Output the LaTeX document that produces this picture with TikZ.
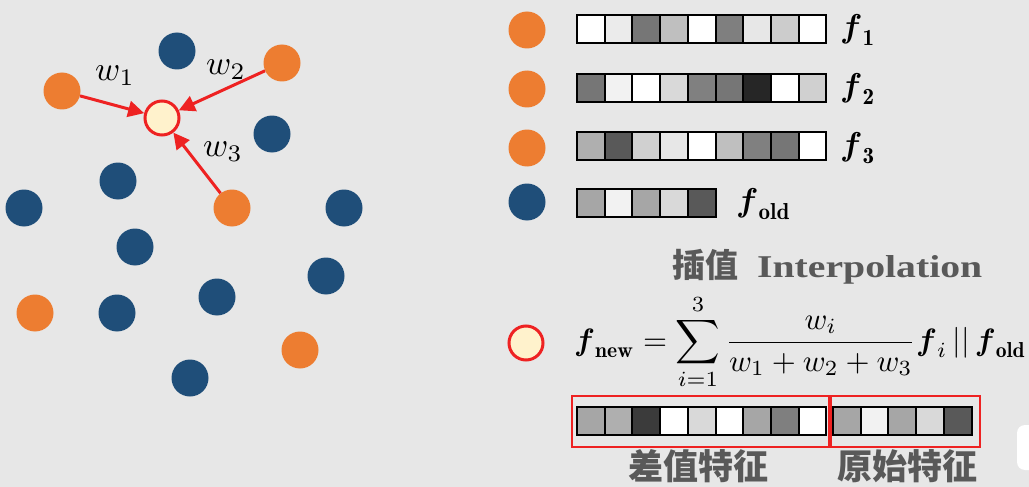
\documentclass[tikz,border=0pt]{standalone}
\usepackage{amsmath}
\usepackage{graphicx}
\usepackage{fontspec}
\newfontfamily\cjk{Noto Sans CJK SC}
\newfontfamily\serifb{Liberation Serif}
\usetikzlibrary{arrows.meta}
\definecolor{bg}{HTML}{E7E7E7}
\definecolor{org}{HTML}{ED7D31}
\definecolor{blu}{HTML}{1F4E79}
\definecolor{crm}{HTML}{FFF2CC}
\definecolor{rd}{HTML}{EE2222}
\definecolor{txt}{HTML}{595959}
\newcommand\featbar[3]{%
  \foreach \g [count=\i from 0] in {#3} {%
    \definecolor{cellc}{RGB}{\g,\g,\g}%
    \filldraw[fill=cellc, draw=black, line width=2pt] ({#1+\i*27.7},#2) rectangle ++(27.7,28);
  }%
}
\tikzset{
  dotO/.style={circle, fill=org, minimum size=37pt, inner sep=0pt},
  dotB/.style={circle, fill=blu, minimum size=37pt, inner sep=0pt},
  newpt/.style={circle, fill=crm, draw=rd, line width=3pt, minimum size=34pt, inner sep=0pt},
  warrow/.style={draw=rd, line width=3pt, -{Triangle[length=16pt,width=16pt]}},
  wlab/.style={inner sep=0pt},
  flab/.style={inner sep=0pt, anchor=west},
  redbox/.style={draw=rd, line width=2.5pt},
}
\begin{document}
\begin{tikzpicture}[x=1pt,y=-1pt]
\useasboundingbox (0,0) rectangle (1029,487);
\clip (0,0) rectangle (1029,487);
\fill[bg] (0,0) rectangle (1029,487);

% left graph
\node[dotB] (b1) at (177,51) {};
\node[dotO] (o1) at (62,91) {};
\node[dotO] (o2) at (282,63) {};
\node[dotB] (b2) at (272,134) {};
\node[dotB] (b3) at (118,181) {};
\node[dotO] (o3) at (232,208) {};
\node[dotB] (b4) at (24,208) {};
\node[dotB] (b5) at (344,208) {};
\node[dotB] (b6) at (135,247) {};
\node[dotB] (b7) at (326,276) {};
\node[dotO] (o4) at (35,313) {};
\node[dotB] (b8) at (117,313) {};
\node[dotB] (b9) at (217,297) {};
\node[dotO] (o5) at (300,350) {};
\node[dotB] (b10) at (190,378) {};
\node[newpt] (c) at (162,118) {};
\draw[warrow] (o1) -- (c);
\draw[warrow] (o2) -- (c);
\draw[warrow] (o3) -- (c);
\node[wlab] (w1) at (115,76) {\scalebox{3.4}{$w_1$}};
\node[wlab] (w2) at (226,70) {\scalebox{3.4}{$w_2$}};
\node[wlab] (w3) at (223,152) {\scalebox{3.4}{$w_3$}};

% legend
\node[dotO] (lo1) at (527,30) {};
\node[dotO] (lo2) at (527,89) {};
\node[dotO] (lo3) at (527,148) {};
\node[dotB] (lb) at (527,202) {};
\node[newpt] (lnew) at (526,343) {};

\featbar{577}{15}{255,235,118,191,255,127,231,204,255}
\featbar{577}{74}{118,242,255,217,128,118,38,255,208}
\featbar{577}{132}{175,89,208,231,255,191,128,118,255}
\featbar{577}{189}{166,242,166,217,89}

\node[flab] (f1) at (840,30) {\scalebox{3.3}{$\boldsymbol{f}_{\mathbf{1}}$}};
\node[flab] (f2) at (840,89) {\scalebox{3.3}{$\boldsymbol{f}_{\mathbf{2}}$}};
\node[flab] (f3) at (840,148) {\scalebox{3.3}{$\boldsymbol{f}_{\mathbf{3}}$}};
\node[flab] (fo) at (736,204) {\scalebox{3.3}{$\boldsymbol{f}_{\mathbf{old}}$}};

\node[anchor=west, inner sep=0pt, text=txt] (title1) at (672,265)
  {\fontsize{33}{38}\selectfont\cjk\bfseries 插值};
\node[anchor=base west, inner sep=0pt, text=txt] (title2) at (757,277)
  {\resizebox{225pt}{22pt}{\serifb\bfseries Interpolation}};

\node[anchor=west, inner sep=0pt] (formula) at (574,342)
  {\resizebox{452pt}{!}{$\displaystyle \boldsymbol{f}_{\mathbf{new}} = \sum_{i=1}^{3}\frac{w_i}{w_1+w_2+w_3}\boldsymbol{f}_i\,||\,\boldsymbol{f}_{\mathbf{old}}$}};

% combined feature
\featbar{577}{407}{166,175,59,255,217,255,166,127,255}
\featbar{833}{407}{166,242,166,217,89}
\draw[redbox] (572,396) rectangle (829,447);
\draw[redbox] (831,396) rectangle (980,447);
\node[text=txt, inner sep=0pt] (l1) at (698,466) {\cjk\bfseries\fontsize{35}{40}\selectfont 差值特征};
\node[text=txt, inner sep=0pt] (l2) at (907,466) {\cjk\bfseries\fontsize{35}{40}\selectfont 原始特征};

\fill[white, rounded corners=8pt] (1017,425) rectangle (1045,470);
\end{tikzpicture}
\end{document}
